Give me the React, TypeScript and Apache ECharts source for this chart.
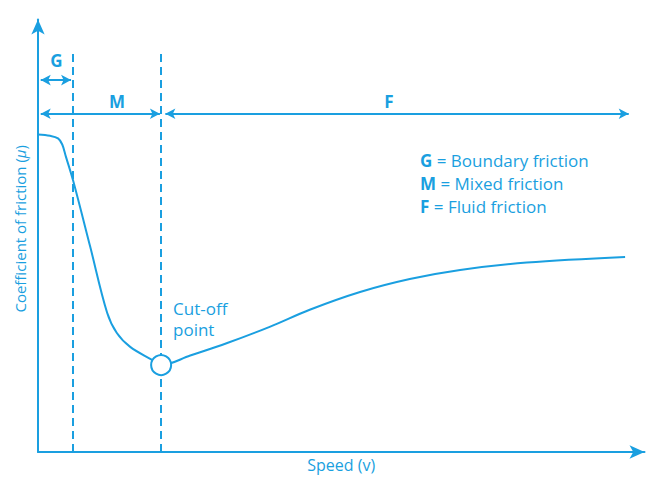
import React, { useEffect, useRef } from "react";
import * as echarts from "echarts";

const BLUE = "#1a9fe0";

// Stribeck curve: speed (arbitrary 0-100) vs coefficient of friction (arbitrary 0-100)
const speed = [0, 2.0, 3.3, 4.0, 4.6, 5.8, 8.6, 11.4, 13.0, 15.2, 18.8, 20.3, 25.1, 31.2, 38.3, 44.8, 53.1, 61.3, 69.6, 80.6, 96.8];
const friction = [73.4, 73.1, 72.5, 71.1, 68.3, 62.7, 47.5, 32.2, 27.5, 24.3, 21.3, 20.1, 22.3, 25.2, 29.0, 32.9, 37.0, 40.0, 42.1, 43.8, 45.1];

const cutOff = [20.3, 20.1];
const regionBounds = [5.7, 20.3]; // G|M and M|F boundaries
const dashTop = 92.4;
const gArrowY = 86.0;
const mfArrowY = 78.2;
const arrowStart = 0.45;
const gArrowEnd = 5.45;
const mArrowEnd = 20.1;
const fArrowStart = 21.0;
const fArrowEnd = 97.4;

const legendItems = [
  ["G", "Boundary friction"],
  ["M", "Mixed friction"],
  ["F", "Fluid friction"],
];

const FONT = "'Open Sans', 'Liberation Sans', sans-serif";

export default function App() {
  const ref = useRef<HTMLDivElement>(null);
  useEffect(() => {
    if (!ref.current) return;
    const chart = echarts.init(ref.current, null, { renderer: "svg" });
    const arrowLine = (x1: number, x2: number, y: number) => [
      { coord: [x1, y] },
      { coord: [x2, y] },
    ];
    chart.setOption({
      animation: false,
      grid: { left: 38, right: 9.5, top: 19.5, bottom: 25, outerBoundsMode: "none", containLabel: false },
      xAxis: {
        type: "value",
        min: 0,
        max: 100,
        name: "Speed (v)",
        nameLocation: "middle",
        nameGap: 5,
        nameTextStyle: { color: BLUE, fontSize: 16, fontFamily: FONT, verticalAlign: "top" },
        axisLine: { lineStyle: { color: BLUE, width: 2 }, symbol: ["none", "arrow"], symbolSize: [10, 15] },
        axisTick: { show: false },
        axisLabel: { show: false },
        splitLine: { show: false },
      },
      yAxis: {
        type: "value",
        min: 0,
        max: 100,
        name: "Coefficient of friction ({i|μ})",
        nameLocation: "middle",
        nameGap: 11,
        nameRotate: 90,
        nameTextStyle: {
          color: BLUE,
          fontSize: 15,
          fontFamily: FONT,
          padding: [0, 0, 0, 14],
          rich: { i: { fontStyle: "italic", color: BLUE, fontSize: 15, fontFamily: FONT } },
        },
        axisLine: { lineStyle: { color: BLUE, width: 2 }, symbol: ["none", "arrow"], symbolSize: [10, 15] },
        axisTick: { show: false },
        axisLabel: { show: false },
        splitLine: { show: false },
      },
      series: [
        {
          type: "line",
          data: speed.map((s, i) => [s, friction[i]]),
          smooth: 0.35,
          showSymbol: false,
          lineStyle: { color: BLUE, width: 2 },
          markLine: {
            silent: true,
            symbol: ["none", "none"],
            label: { show: false },
            lineStyle: { color: BLUE, width: 2, type: [8, 5] },
            data: regionBounds.map((b) => [{ coord: [b, 0] }, { coord: [b, dashTop] }]),
          },
          z: 2,
        },
        {
          type: "line",
          data: [],
          markLine: {
            silent: true,
            symbol: ["arrow", "arrow"],
            symbolSize: [8, 10],
            label: { show: false },
            lineStyle: { color: BLUE, width: 2, type: "solid" },
            data: [
              arrowLine(arrowStart, gArrowEnd, gArrowY),
              arrowLine(arrowStart, mArrowEnd, mfArrowY),
              arrowLine(fArrowStart, fArrowEnd, mfArrowY),
            ],
          },
        },
        {
          type: "scatter",
          data: [cutOff],
          symbol: "circle",
          symbolSize: 20,
          itemStyle: { color: "#ffffff", borderColor: BLUE, borderWidth: 2, opacity: 1 },
          z: 5,
        },
      ],
      graphic: [
        { type: "text", x: 56.5, y: 60, style: { text: "G", fill: BLUE, font: `bold 17px ${FONT}`, align: "center", verticalAlign: "middle" } },
        { type: "text", x: 117, y: 101, style: { text: "M", fill: BLUE, font: `bold 17px ${FONT}`, align: "center", verticalAlign: "middle" } },
        { type: "text", x: 389, y: 101, style: { text: "F", fill: BLUE, font: `bold 17px ${FONT}`, align: "center", verticalAlign: "middle" } },
        ...legendItems.map(([k, v], i) => ({
          type: "text",
          x: 420,
          y: 160.5 + i * 23,
          style: {
            text: `{b|${k}} = ${v}`,
            fill: BLUE,
            font: `17px ${FONT}`,
            verticalAlign: "middle",
            rich: { b: { fontWeight: "bold", fontSize: 17, fontFamily: FONT, fill: BLUE } },
          },
        })),
        {
          type: "text",
          x: 173,
          y: 319,
          style: {
            text: "Cut-off\npoint",
            fill: BLUE,
            font: `17px ${FONT}`,
            lineHeight: 21,
            verticalAlign: "middle",
          },
        },
      ],
    });
    return () => chart.dispose();
  }, []);
  return <div ref={ref} style={{ width: 654, height: 477, position: "absolute", left: 0, top: 0 }} />;
}
